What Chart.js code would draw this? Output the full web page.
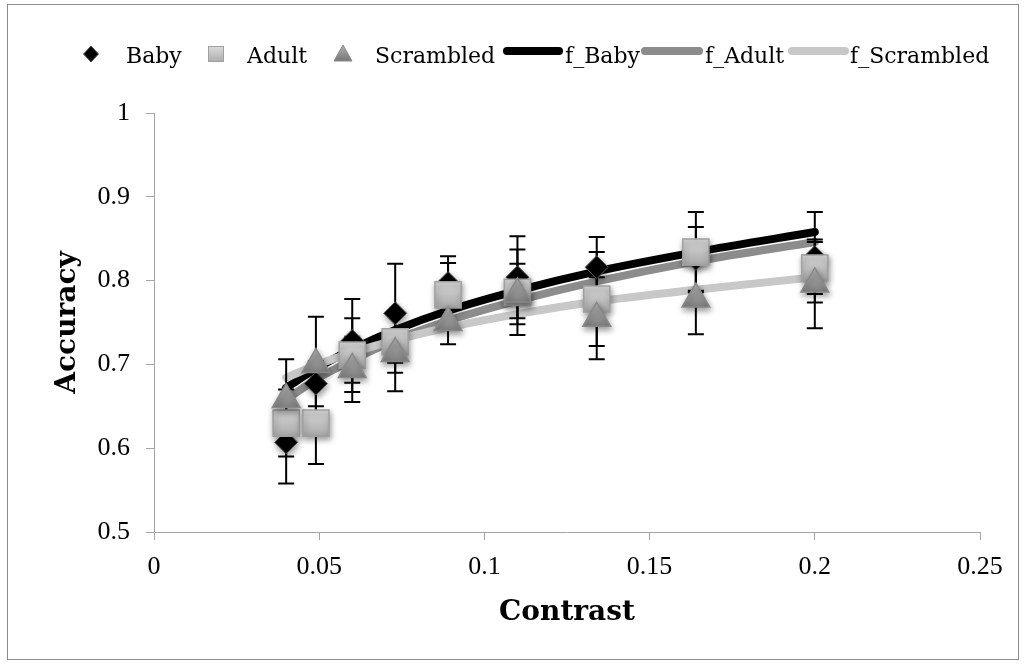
<!DOCTYPE html>
<html><head><meta charset="utf-8">
<script src="https://cdn.jsdelivr.net/npm/chart.js@4"></script>
<style>html,body{margin:0;padding:0;background:#fff;overflow:hidden}#wrap{position:relative;width:1026px;height:665px}</style>
</head><body><div id="wrap"><canvas id="c" width="1026" height="665"></canvas></div>
<script>
const contrast = [0.04, 0.049, 0.06, 0.073, 0.089, 0.11, 0.134, 0.164, 0.2];
const babyAcc = [0.607, 0.677, 0.728, 0.761, 0.797, 0.804, 0.816, 0.826, 0.828];
const babyErr = [0.049, 0.027, 0.050, 0.059, 0.032, 0.049, 0.036, 0.038, 0.054];
const adultAcc = [0.630, 0.630, 0.711, 0.727, 0.783, 0.786, 0.778, 0.834, 0.815];
const adultErr = [0.040, 0.049, 0.044, 0.037, 0.038, 0.051, 0.056, 0.048, 0.031];
const scrambledAcc = [0.658, 0.700, 0.694, 0.713, 0.750, 0.784, 0.755, 0.778, 0.796];
const scrambledErr = [0.048, 0.057, 0.039, 0.045, 0.026, 0.036, 0.049, 0.042, 0.053];
const fBaby = [0.672, 0.695, 0.718, 0.741, 0.764, 0.788, 0.811, 0.834, 0.858];
const fAdult = [0.658, 0.682, 0.705, 0.729, 0.752, 0.776, 0.799, 0.823, 0.846];
const fScrambled = [0.684, 0.699, 0.714, 0.729, 0.744, 0.760, 0.775, 0.789, 0.804];
const xTickLabels = ['0', '0.05', '0.1', '0.15', '0.2', '0.25'];
const yTickLabels = ['0.5', '0.6', '0.7', '0.8', '0.9', '1'];

const pts = arr => arr.map((v, i) => ({x: contrast[i], y: v}));
const TICK_FONT = {family: "'Liberation Serif', serif", size: 26};
const TITLE_FONT = {family: "'DejaVu Serif', serif", size: 28, weight: 'bold'};
const AXIS_COLOR = '#a6a6a6';

function grad(top, bottom, r) {
  return c => {
    if (!c.raw || !c.chart.scales || !c.chart.scales.y) return bottom;
    const y = c.chart.scales.y.getPixelForValue(c.raw.y);
    if (!isFinite(y)) return bottom;
    const g = c.chart.ctx.createLinearGradient(0, y - r, 0, y + r);
    g.addColorStop(0, top); g.addColorStop(1, bottom);
    return g;
  };
}

const errorBarPlugin = {
  id: 'errbars',
  beforeDatasetDraw(chart, args) {
    const ds = chart.data.datasets[args.index];
    if (ds.type === 'line') return;
    const ctx = chart.ctx;
    if (ds.label === 'Baby') {
      const xs = chart.scales.x, ys = chart.scales.y;
      ctx.save();
      ctx.strokeStyle = '#000';
      ctx.lineWidth = 2;
      chart.data.datasets.forEach(d => {
        if (!d.err) return;
        d.data.forEach((p, i) => {
          const px = xs.getPixelForValue(p.x);
          const t = ys.getPixelForValue(p.y + d.err[i]);
          const b = ys.getPixelForValue(p.y - d.err[i]);
          ctx.beginPath();
          ctx.moveTo(px, t); ctx.lineTo(px, b);
          ctx.moveTo(px - 8, t); ctx.lineTo(px + 8, t);
          ctx.moveTo(px - 8, b); ctx.lineTo(px + 8, b);
          ctx.stroke();
        });
      });
      ctx.restore();
    }
    ctx.save();
    ctx.shadowColor = 'rgba(0,0,0,0.4)';
    ctx.shadowBlur = 6;
    ctx.shadowOffsetX = 1;
    ctx.shadowOffsetY = 3;
  },
  afterDatasetDraw(chart, args) {
    const ds = chart.data.datasets[args.index];
    if (ds.type === 'line') return;
    chart.ctx.restore();
  }
};

const legendPlugin = {
  id: 'customLegend',
  afterDraw(chart) {
    const ctx = chart.ctx;
    ctx.save();
    ctx.strokeStyle = '#8a8a8a';
    ctx.lineWidth = 1;
    ctx.strokeRect(7.5, 4.5, 1011, 655);
    const ly = 54;
    const ds = chart.data.datasets;
    ctx.font = "22px 'DejaVu Serif', serif";
    ctx.textBaseline = 'alphabetic';
    ctx.beginPath();
    ctx.moveTo(91 - 7.5, ly); ctx.lineTo(91, ly - 8); ctx.lineTo(91 + 7.5, ly); ctx.lineTo(91, ly + 8); ctx.closePath();
    ctx.fillStyle = '#000'; ctx.fill(); ctx.strokeStyle = '#555'; ctx.stroke();
    ctx.fillStyle = '#000'; ctx.fillText(ds[0].label, 126, 63);
    let g = ctx.createLinearGradient(0, ly - 8, 0, ly + 8);
    g.addColorStop(0, '#dcdcdc'); g.addColorStop(1, '#acacac');
    ctx.fillStyle = g; ctx.fillRect(208, ly - 8, 16, 16);
    ctx.strokeStyle = '#a0a0a0'; ctx.strokeRect(208.5, ly - 7.5, 15, 15);
    ctx.fillStyle = '#000'; ctx.fillText(ds[1].label, 247, 63);
    g = ctx.createLinearGradient(0, ly - 9, 0, ly + 7);
    g.addColorStop(0, '#b0b0b0'); g.addColorStop(1, '#777');
    ctx.beginPath();
    ctx.moveTo(343, ly - 9); ctx.lineTo(352, ly + 7); ctx.lineTo(334, ly + 7); ctx.closePath();
    ctx.fillStyle = g; ctx.fill(); ctx.strokeStyle = '#888'; ctx.stroke();
    ctx.fillStyle = '#000'; ctx.fillText(ds[2].label, 375, 63);
    const lineItems = [[3, 507, 559, 565], [4, 645, 699, 705], [5, 792, 845, 850]];
    lineItems.forEach(([i, x1, x2, tx]) => {
      ctx.beginPath();
      ctx.lineCap = 'round';
      ctx.lineWidth = 8;
      ctx.strokeStyle = ds[i].borderColor;
      ctx.moveTo(x1, 51); ctx.lineTo(x2, 51); ctx.stroke();
      ctx.fillStyle = '#000';
      ctx.fillText(ds[i].label, tx, 63);
    });
    ctx.restore();
  }
};

new Chart(document.getElementById('c'), {
  type: 'scatter',
  data: {
    datasets: [
      {label: 'Baby', data: pts(babyAcc), err: babyErr, pointStyle: 'rectRot', pointRadius: 11.5,
       backgroundColor: '#000', borderColor: '#555', borderWidth: 1, order: 3},
      {label: 'Adult', data: pts(adultAcc), err: adultErr, pointStyle: 'rect', pointRadius: 18.5,
       backgroundColor: grad('#d8d8d8', '#a9a9a9', 13), borderColor: '#a0a0a0', borderWidth: 1.5, order: 2},
      {label: 'Scrambled', data: pts(scrambledAcc), err: scrambledErr, pointStyle: 'triangle', pointRadius: 16,
       backgroundColor: grad('#b0b0b0', '#747474', 14), borderColor: '#888', borderWidth: 1.5, order: 1},
      {type: 'line', label: 'f_Baby', data: pts(fBaby), borderColor: '#000', borderWidth: 8, pointRadius: 0,
       borderCapStyle: 'round', borderJoinStyle: 'round', cubicInterpolationMode: 'monotone', fill: false, order: 6},
      {type: 'line', label: 'f_Adult', data: pts(fAdult), borderColor: '#8c8c8c', borderWidth: 8, pointRadius: 0,
       borderCapStyle: 'round', borderJoinStyle: 'round', cubicInterpolationMode: 'monotone', fill: false, order: 5},
      {type: 'line', label: 'f_Scrambled', data: pts(fScrambled), borderColor: '#c8c8c8', borderWidth: 8, pointRadius: 0,
       borderCapStyle: 'round', borderJoinStyle: 'round', cubicInterpolationMode: 'monotone', fill: false, order: 4}
    ]
  },
  options: {
    responsive: false, animation: false, devicePixelRatio: 1,
    layout: {padding: {left: 10, top: 113, right: 46, bottom: 20}},
    plugins: {legend: {display: false}, tooltip: {enabled: false}},
    scales: {
      x: {
        type: 'linear', min: 0, max: 0.25,
        ticks: {stepSize: 0.05, autoSkip: false, maxRotation: 0, color: '#000', font: TICK_FONT, padding: 12,
                callback: (v, i) => xTickLabels[i]},
        grid: {drawOnChartArea: false, drawTicks: true, tickLength: 8, color: AXIS_COLOR, lineWidth: 1},
        border: {color: AXIS_COLOR, width: 1},
        title: {display: true, text: 'Contrast', color: '#000', font: TITLE_FONT, padding: {top: 0, bottom: 15}},
        afterFit: s => { s.height = 113; }
      },
      y: {
        type: 'linear', min: 0.5, max: 1,
        ticks: {stepSize: 0.1, color: '#000', font: TICK_FONT, padding: 16,
                callback: (v, i) => yTickLabels[i]},
        grid: {drawOnChartArea: false, drawTicks: true, tickLength: 8, color: AXIS_COLOR, lineWidth: 1},
        border: {color: AXIS_COLOR, width: 1},
        title: {display: true, text: 'Accuracy', color: '#000', font: TITLE_FONT, padding: {top: 41, bottom: 0}},
        afterFit: s => { s.width = 144; }
      }
    }
  },
  plugins: [errorBarPlugin, legendPlugin]
});
</script>
</body></html>
